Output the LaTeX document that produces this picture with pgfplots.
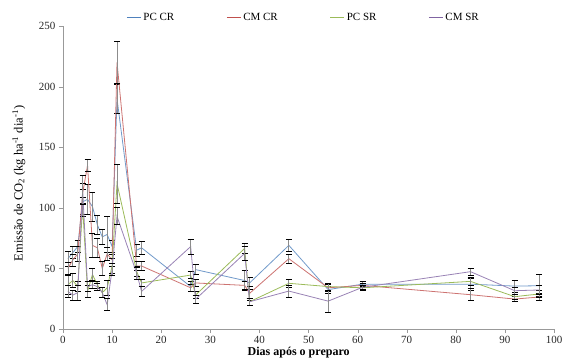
\documentclass[border=0pt]{standalone}
\usepackage{pgfplots}
\pgfplotsset{compat=1.18}
\usepackage{pgfplotstable}
\usepackage{fontspec}
\setmainfont{Liberation Serif}
\definecolor{cblue}{HTML}{4F81BD}
\definecolor{cred}{HTML}{C0504D}
\definecolor{cgreen}{HTML}{9BBB59}
\definecolor{cpurple}{HTML}{8064A2}
\pgfplotstableread{
x y e
1 58 6
2 63 5
3 68 5
4 105 10
5 107 12
6 101 12
7 86 8
8 76 6
9 78 15
10 68 5
11 190 12
15 65 5
16 67 5
26 35 4
27 49 4
37 40 8
38 38 5
46 69 5
54 32.5 3
61 37 2
83 37 5
92 35.4 5
97 35.7 9
}\pccr
\pgfplotstableread{
x y e
1 50 5
2 57 5
3 62 6
4 112 8
5 135 5
6 69 10
7 67 8
8 50 6
9 62 5
10 57 5
11 220 17
15 52 4
16 52 4
26 34 3
27 38 3
37 36 3
38 29.4 6
46 58 4
54 34 3
61 36 2
83 28.3 5
92 24.7 2
97 26.4 3
}\cmcr
\pgfplotstableread{
x y e
1 36.5 8
2 40 6
3 35 4
4 101 8
5 31 5
6 45 5
7 36.5 3
8 30 4
9 34 6
10 52 6
11 120 16
15 47.5 4
16 38 3
26 44.5 3
27 28 3
37 66.5 4
38 22.5 3
46 37.7 3
54 35 3
61 34 2
83 39.3 3
92 26.7 2
97 28.9 3
}\pcsr
\pgfplotstableread{
x y e
1 31 5
2 28 4
3 30 6
4 115 12
5 35 4
6 36.5 3
7 35 3
8 30 4
9 20 5
10 49 5
11 93 7
15 46 5
16 31 4
26 68 6
27 24.5 3
37 62.4 6
38 22.5 3
46 31.3 5
54 23 9
61 34.4 2
83 47.3 3
92 31.6 3
97 32.2 4
}\cmsr
\begin{document}
\begin{tikzpicture}
\begin{axis}[
  name=ax,
  scale only axis,
  width=491pt, height=303pt,
  xmin=0, xmax=100, ymin=0, ymax=250,
  axis x line*=bottom, axis y line*=left,
  axis line style={draw=gray!80},
  tick align=outside,
  major tick length=4pt,
  tick style={gray!80},
  xtick={0,10,...,100}, ytick={0,50,...,250},
  ticklabel style={font=\fontsize{11}{13}\selectfont, text=black!85},
  /pgf/number format/assume math mode=true,
  xlabel={Dias após o preparo},
  xlabel style={font=\fontsize{12}{14}\selectfont\bfseries, at={(axis description cs:0.48,-0.078)}, anchor=center},
  ylabel={Emissão de CO\textsubscript{2} (kg ha\textsuperscript{-1} dia\textsuperscript{-1})},
  ylabel style={font=\fontsize{12.5}{14}\selectfont, at={(axis description cs:-0.09,0.48)}, anchor=center},
  legend columns=4,
  legend style={draw=none, fill=none, font=\fontsize{11}{13}\selectfont, at={(axis description cs:0.49,1.027)}, anchor=center, inner sep=1pt},
  /tikz/every even column/.append style={column sep=50pt},
  every axis plot/.append style={line width=0.8pt, no marks},
  eb/.style={error bars/.cd, y dir=both, y explicit,
    error bar style={gray!90, line width=0.8pt},
    error mark options={black, line width=0.7pt, mark size=3pt, rotate=90}},
]
\addlegendimage{legend image code/.code={\draw[draw=cblue, line width=1pt] (0pt,0pt) -- (14pt,0pt);}}
\addlegendentry{PC CR}
\addlegendimage{legend image code/.code={\draw[draw=cred, line width=1pt] (0pt,0pt) -- (14pt,0pt);}}
\addlegendentry{CM CR}
\addlegendimage{legend image code/.code={\draw[draw=cgreen, line width=1pt] (0pt,0pt) -- (14pt,0pt);}}
\addlegendentry{PC SR}
\addlegendimage{legend image code/.code={\draw[draw=cpurple, line width=1pt] (0pt,0pt) -- (14pt,0pt);}}
\addlegendentry{CM SR}
\addplot[forget plot, color=cblue!80, eb] table[x=x,y=y,y error=e]{\pccr};
\addplot[forget plot, color=cred!80, eb] table[x=x,y=y,y error=e]{\cmcr};
\addplot[forget plot, color=cgreen, eb] table[x=x,y=y,y error=e]{\pcsr};
\addplot[forget plot, color=cpurple!80, eb] table[x=x,y=y,y error=e]{\cmsr};
\end{axis}
\pgfresetboundingbox
\path[use as bounding box] (ax.south west) ++(-63pt,-31pt) rectangle ++(563pt,360pt);
\end{tikzpicture}
\end{document}
